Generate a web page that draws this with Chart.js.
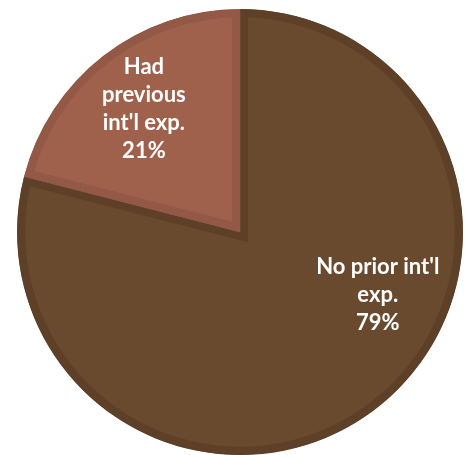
<!DOCTYPE html>
<html>
<head>
<meta charset="utf-8">
<script src="https://cdn.jsdelivr.net/npm/chart.js@4.4.0/dist/chart.umd.min.js"></script>
<style>
  html, body { margin: 0; padding: 0; background: #fff; overflow: hidden; }
  #wrap { position: absolute; left: 0; top: 0; width: 465px; height: 455px; }
</style>
</head>
<body>
<div id="wrap"><canvas id="PIE"></canvas></div>
<script>
// data
var categories = ["No prior int'l exp.", "Had previous int'l exp."];
var shares = [79, 21];
var labelLines = [["No prior int'l", "exp."], ["Had", "previous", "int'l exp."]];

var fillColors = ['#6a4a2e', '#a0614c'];
var edgeColors = ['#5d4027', '#935846'];

// labels inside the slices (angle in degrees clockwise from 3 o'clock, r as part of radius)
var sliceLabels = {
    id: 'sliceLabels',
    afterDatasetsDraw: function (chart, args, opts) {
        var ctx = chart.ctx;
        var meta = chart.getDatasetMeta(0);
        ctx.save();
        ctx.fillStyle = '#ffffff';
        ctx.font = 'bold 22px Lato';
        ctx.textAlign = 'center';
        ctx.textBaseline = 'middle';
        meta.data.forEach(function (arc, i) {
            var place = opts.place[i];
            var a = place.angle * Math.PI / 180;
            var cx = arc.x + Math.cos(a) * arc.outerRadius * place.r;
            var cy = arc.y + Math.sin(a) * arc.outerRadius * place.r;
            var lines = labelLines[i].concat([shares[i] + '%']);
            var top = cy - (lines.length - 1) * opts.lineHeight / 2;
            lines.forEach(function (t, j) {
                ctx.fillText(t, cx, top + j * opts.lineHeight);
            });
        });
        ctx.restore();
    }
};

var ctxPie = document.getElementById('PIE').getContext('2d');
var pie = new Chart(ctxPie, {
    type: 'pie',
    data: {
        labels: categories,
        datasets: [{
            data: shares,
            backgroundColor: fillColors,
            borderColor: edgeColors,
            borderWidth: 8,
            borderAlign: 'inner',
            borderJoinStyle: 'miter',
            offset: 0,
            hoverOffset: 0
        }]
    },
    options: {
        responsive: true,
        maintainAspectRatio: false,
        animation: false,
        rotation: 0,
        layout: { padding: { left: 16, right: 1, top: 9, bottom: 0 } },
        plugins: {
            legend: { display: false },
            tooltip: { enabled: false },
            sliceLabels: {
                lineHeight: 28,
                place: [{ angle: 24.7, r: 0.68 }, { angle: -128, r: 0.70 }]
            }
        }
    },
    plugins: [sliceLabels]
});
</script>
</body>
</html>
